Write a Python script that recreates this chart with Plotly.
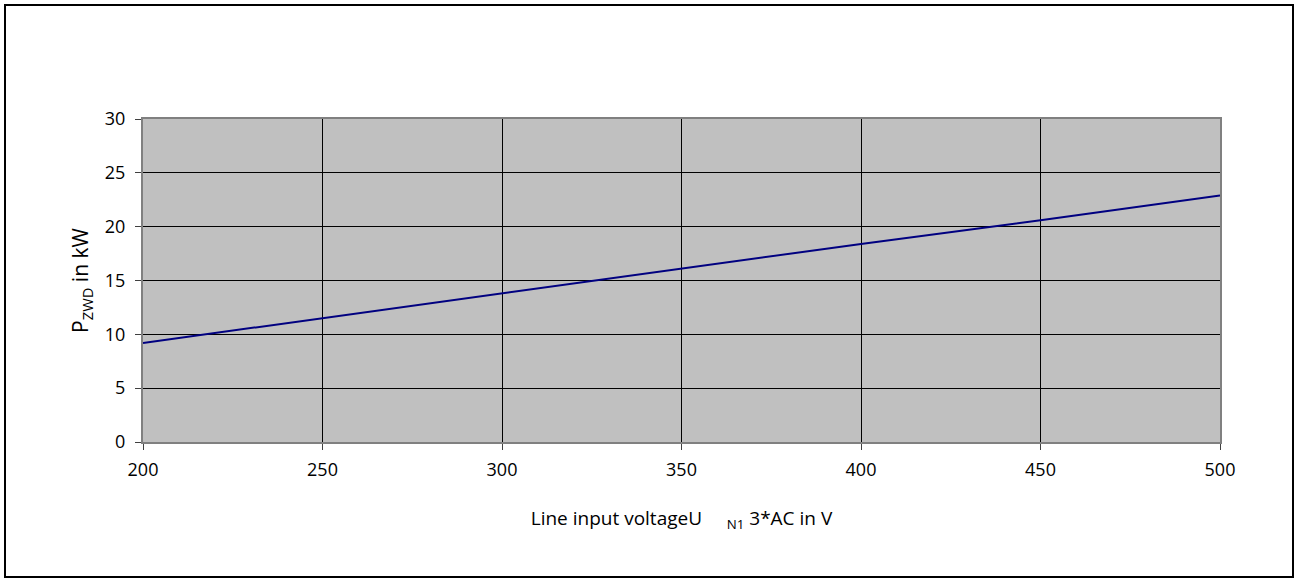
import plotly.graph_objects as go

voltage = [200, 250, 300, 350, 400, 450, 500]
power_kw = [9.2, 11.5, 13.8, 16.1, 18.4, 20.6, 22.9]
x_ticks = [200, 250, 300, 350, 400, 450, 500]
y_ticks = [0, 5, 10, 15, 20, 25, 30]

W, H = 1295, 579
L, R, T, B = 143, 75, 119, 137
pw, ph = W - L - R, H - T - B

FAM = "Open Sans, Noto Sans, sans-serif"
tick_font = dict(family=FAM, size=18, color="black")
xtitle_font = dict(family=FAM, size=19, color="black")
ytitle_font = dict(family=FAM, size=21, color="black")

fig = go.Figure()
fig.add_trace(go.Scatter(x=voltage, y=power_kw, mode="lines",
                         line=dict(color="#000080", width=2), showlegend=False,
                         hoverinfo="skip"))

fig.update_layout(
    width=W, height=H,
    margin=dict(l=L, r=R, t=T, b=B, pad=0),
    paper_bgcolor="white", plot_bgcolor="#C0C0C0",
    font=tick_font,
    xaxis=dict(range=[200, 500], tickvals=x_ticks, ticktext=[str(v) for v in x_ticks],
               tickfont=tick_font, ticklabelstandoff=4,
               showgrid=True, gridcolor="#000000", gridwidth=1,
               showline=True, linecolor="#808080", linewidth=2, mirror=True,
               ticks="outside", ticklen=6, tickcolor="#404040", tickwidth=1,
               zeroline=False,
               title=dict(text="Line input voltageU\u00a0\u00a0\u00a0\u00a0\u00a0<sub>N1</sub> 3*AC in V",
                          standoff=32, font=xtitle_font)),
    yaxis=dict(range=[0, 30], tickvals=y_ticks, ticktext=[str(v) for v in y_ticks],
               tickfont=tick_font, ticklabelstandoff=6,
               showgrid=True, gridcolor="#000000", gridwidth=1,
               showline=True, linecolor="#808080", linewidth=2, mirror=True,
               ticks="outside", ticklen=6, tickcolor="#404040", tickwidth=1,
               zeroline=False,
               title=dict(text="P<sub>ZWD</sub> in kW", standoff=10, font=ytitle_font)),
)

fig.add_shape(type="rect", xref="paper", yref="paper",
              x0=(5 - L) / pw, x1=(1293 - L) / pw,
              y0=-(577 - (H - B)) / ph, y1=1 + (T - 5) / ph,
              line=dict(color="black", width=2), fillcolor="rgba(0,0,0,0)", layer="above")

fig.write_html("out.html", config={"displayModeBar": False},
               post_script="document.body.style.margin='0';document.body.style.overflow='hidden';")
